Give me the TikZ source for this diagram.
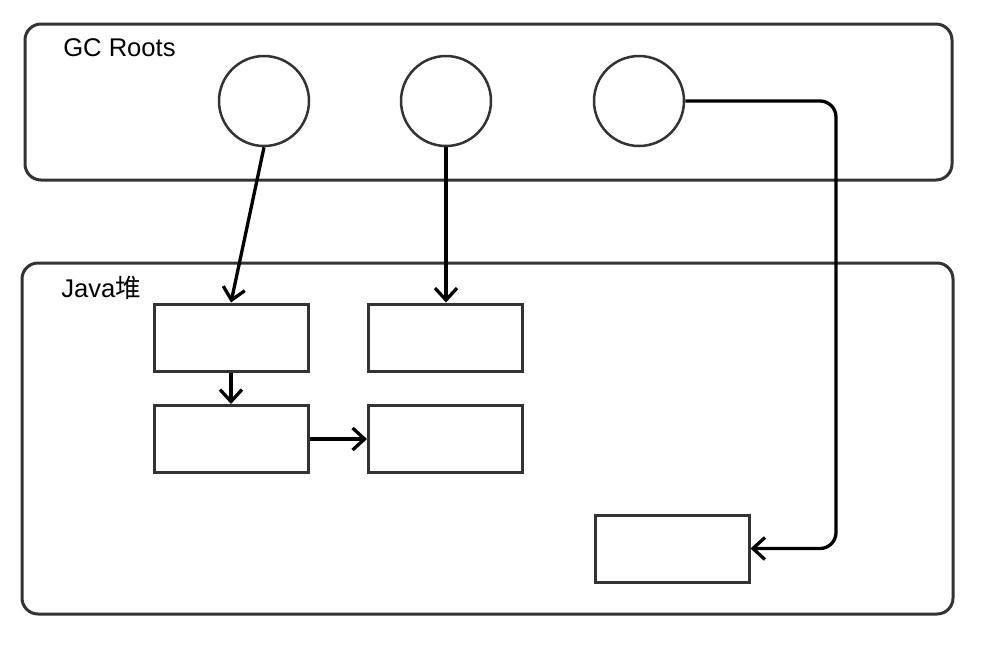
\documentclass[tikz,border=0pt]{standalone}
\usepackage{fontspec}
\setmainfont{Liberation Sans}
\newfontfamily\cjk{Noto Sans CJK SC}
\usetikzlibrary{arrows.meta}
\def\px{0.75pt}
\newcommand\labelfont{\fontsize{19.2}{23}\selectfont}

\begin{document}
\begin{tikzpicture}[
    x=\px, y=-\px,
    arrowtip/.style={
      line width=3.3*\px,
      -{Straight Barb[length=12*\px, width=22*\px]}
    },
    groupbox/.style={
      draw=black!80, line width=3*\px, rounded corners=16*\px,
      minimum width=#1*\px, inner sep=0pt
    },
    root/.style={
      draw=black!80, line width=2.5*\px, circle,
      minimum size=90*\px, inner sep=0pt
    },
    object/.style={
      draw=black!80, line width=3*\px,
      minimum width=154*\px, minimum height=67*\px, inner sep=0pt
    }
  ]
    \useasboundingbox (0,0) rectangle (1000,654);

    % GC roots
    \node[groupbox=927, minimum height=156*\px] (GcBox) at (488.5,102) {};
    \node[anchor=base west, inner sep=0pt] (GcLabel) at (63,56) { \labelfont GC Roots };

    \node[root] (RootA) at (264,101) {};
    \node[root] (RootB) at (446,101) {};
    \node[root] (RootC) at (639,101) {};

    % heap
    \node[groupbox=931, minimum height=351*\px] (HeapBox) at (487.5,438.5) {};
    \node[anchor=base west, inner sep=0pt] (HeapLabel) at (61,297) { \labelfont Java{\cjk 堆} };

    \node[object] (ObjA) at (231,337.5) {};
    \node[object] (ObjB) at (445.5,337.5) {};
    \node[object] (ObjC) at (231,439) {};
    \node[object] (ObjD) at (445.5,439) {};
    \node[object] (ObjE) at (672,548.5) {};

    \coordinate (Bend) at (836,101);

    \draw[arrowtip] (RootA.south) to (ObjA.north);
    \draw[arrowtip] (RootB.south) to (RootB.south |- ObjB.north);
    \draw[arrowtip] (ObjA) to (ObjC);
    \draw[arrowtip] (ObjC) to (ObjD);
    \draw[arrowtip, rounded corners=16*\px] (RootC.east) -- (Bend) |- (ObjE.east);
  \end{tikzpicture}
\end{document}
